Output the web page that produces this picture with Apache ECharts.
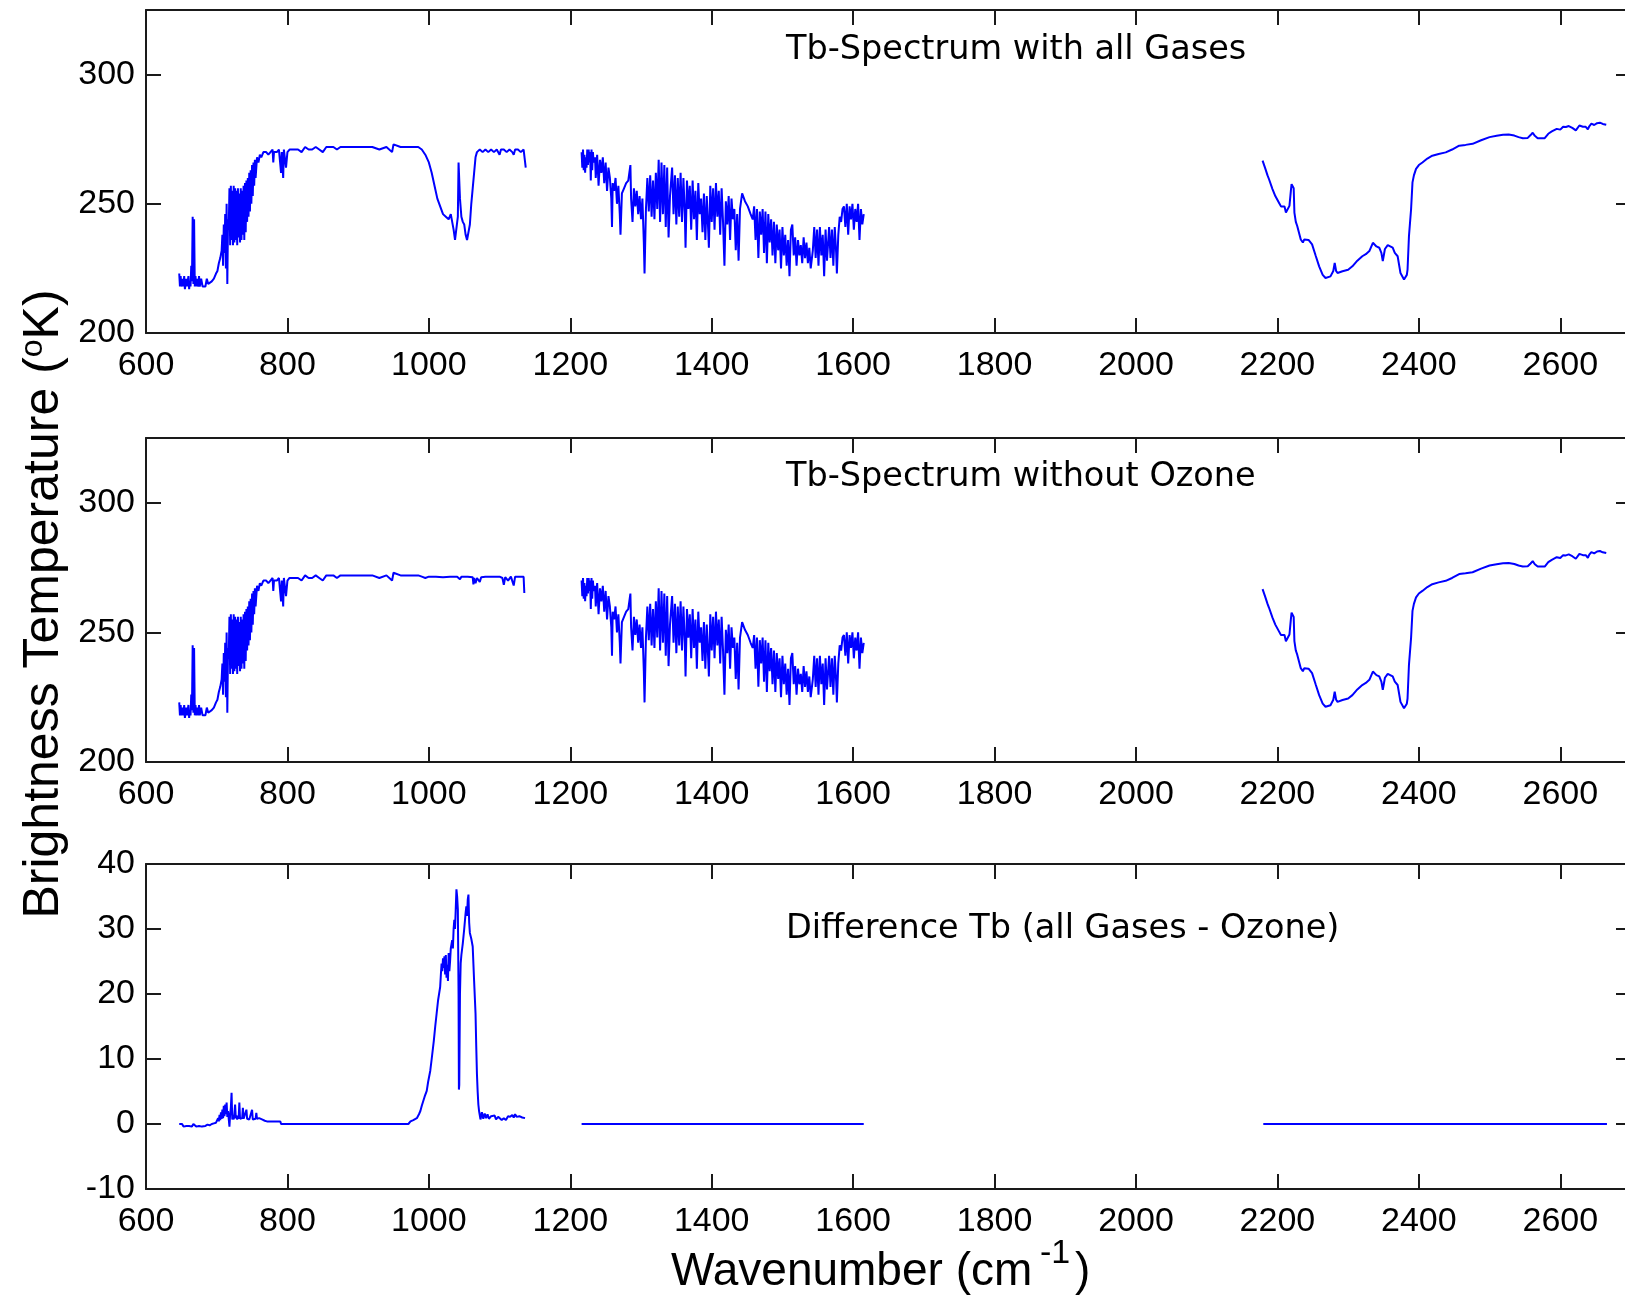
<!DOCTYPE html>
<html>
<head>
<meta charset="utf-8">
<title>Tb spectrum</title>
<script src="https://cdn.jsdelivr.net/npm/echarts@6.0.0/dist/echarts.min.js"></script>
<style>
html,body{margin:0;padding:0;background:#fff;}
#main{width:1625px;height:1306px;}
</style>
</head>
<body>
<div id="main"></div>
<script>
// [wavenumber cm-1, Tb K]
// 647-985 : identical in both spectra
var lwBand = [[647,223],[648,218],[649,222],[650,218],[652,221],[653,218],[654,222],[655,217],[657,221],[658,218],[660,222],[661,217],[662,220],[663,218],[664,226],[665,220],[666,245],[667,219],[668,244],[669,218],[670,222],[671,218],[672,221],[674,218],[675,222],[676,218],[678,221],[680,218],[682,218],[684,218],[686,221],[688,219],[690,219],[693,220],[696,221],[699,223],[701,224],[703,227],[705,229],[707,232],[708,238],[709,226],[710,242],[711,231],[712,246],[713,225],[714,250],[715,219],[716,244],[717,240],[718,256],[719,234],[720,257],[721,236],[722,255],[723,234],[724,257],[725,235],[726,256],[727,236],[728,255],[729,234],[730,256],[731,237],[732,254],[733,235],[734,256],[735,236],[736,255],[737,238],[738,257],[739,236],[740,258],[741,239],[742,259],[743,243],[744,260],[745,245],[746,262],[747,247],[748,263],[749,250],[750,265],[751,253],[752,266],[753,257],[754,267],[755,260],[757,268],[759,266],[761,269],[763,268],[766,270],[770,270],[773,269],[776,270],[779,271],[780,266],[781,270],[785,270],[788,271],[791,262],[792,270],[794,260],[795,271],[798,264],[800,270],[803,271],[810,271],[815,271],[820,270],[825,272],[830,271],[835,271],[840,272],[845,271],[850,270],[855,272],[860,272],[865,272],[870,271],[875,272],[880,272],[890,272],[900,272],[910,272],[920,272],[930,271],[940,272],[948,270],[950,273],[960,272],[970,272],[980,272],[985,272]];
// 990-1137 : ozone band
var o3BandAll = [[990,271],[995,269],[1000,266],[1004,262],[1008,257],[1012,252],[1016,249],[1020,246],[1024,245],[1028,244],[1031,246],[1033,243],[1035,240],[1037,236],[1039,236],[1041,245],[1042,266],[1043,266],[1044,252],[1046,245],[1048,243],[1050,242],[1052,238],[1054,236],[1056,236],[1058,242],[1060,250],[1062,256],[1064,262],[1066,268],[1068,270],[1072,271],[1076,270],[1080,271],[1084,270],[1088,271],[1092,270],[1096,271],[1100,269],[1102,271],[1106,271],[1110,270],[1114,271],[1118,270],[1120,269],[1122,271],[1126,271],[1130,270],[1134,271],[1136,271],[1137,264]];
var o3BandNoO3 = [[990,271.5],[995,271],[1000,271.5],[1010,271.5],[1020,271.3],[1030,271.5],[1040,271.5],[1044,270.5],[1046,271.5],[1055,271.5],[1062,271.3],[1063,268.5],[1064,271],[1066,269],[1068,271],[1072,269.5],[1074,271.3],[1080,271.5],[1090,271.5],[1100,271.5],[1104,271],[1106,268.4],[1108,271.3],[1112,270],[1116,271.5],[1120,268.1],[1122,271.5],[1128,271.5],[1134,271.5],[1135,265.2]];
// 1216-1615 : water vapour band
var h2oBand = [[1216,270],[1217,264],[1218,271],[1219,263],[1220,269],[1221,262],[1222,268],[1223,264],[1224,271],[1225,265],[1226,271],[1227,266],[1228,270],[1229,259],[1230,271],[1231,263],[1232,270],[1233,266],[1235,268],[1236,260],[1238,269],[1240,257],[1242,267],[1244,262],[1246,268],[1248,258],[1250,266],[1252,255],[1254,264],[1256,260],[1258,252],[1259,241],[1260,258],[1262,255],[1264,260],[1266,250],[1268,257],[1270,246],[1271,238],[1273,254],[1276,256],[1279,258],[1282,259],[1285,265],[1286,252],[1288,243],[1290,256],[1292,249],[1294,255],[1296,246],[1298,253],[1300,244],[1302,252],[1304,235],[1305,223],[1307,248],[1309,260],[1311,247],[1313,261],[1315,245],[1317,259],[1319,244],[1321,262],[1323,248],[1325,267],[1327,243],[1329,266],[1331,246],[1333,265],[1335,241],[1337,264],[1339,237],[1341,253],[1344,264],[1346,246],[1348,261],[1350,242],[1352,260],[1354,245],[1356,262],[1358,243],[1360,260],[1362,246],[1363,233],[1365,259],[1367,248],[1369,257],[1371,240],[1373,259],[1375,244],[1377,255],[1379,236],[1381,258],[1383,246],[1385,252],[1387,239],[1389,254],[1391,236],[1393,253],[1395,240],[1396,233],[1398,257],[1400,243],[1402,256],[1404,240],[1406,258],[1408,245],[1410,255],[1412,238],[1414,256],[1416,243],[1418,226],[1420,251],[1422,242],[1424,253],[1426,236],[1428,252],[1430,244],[1432,248],[1434,232],[1436,246],[1438,228],[1440,248],[1443,254],[1447,251],[1451,249],[1455,246],[1458,244],[1460,249],[1462,236],[1464,248],[1466,229],[1468,247],[1470,238],[1472,248],[1474,231],[1476,247],[1478,227],[1480,246],[1482,235],[1484,244],[1486,230],[1488,243],[1490,227],[1492,242],[1494,232],[1496,240],[1498,225],[1500,241],[1502,230],[1504,238],[1506,226],[1508,236],[1510,222],[1512,240],[1514,242],[1516,230],[1518,237],[1520,226],[1522,236],[1524,230],[1526,234],[1528,227],[1530,237],[1532,229],[1534,235],[1536,227],[1538,233],[1540,225],[1543,232],[1545,241],[1547,229],[1549,240],[1551,226],[1553,241],[1555,230],[1557,238],[1559,222],[1561,240],[1563,228],[1566,241],[1568,229],[1570,240],[1572,226],[1574,241],[1576,231],[1577,223],[1579,238],[1581,245],[1583,243],[1585,248],[1587,249],[1589,241],[1591,250],[1593,238],[1595,249],[1597,244],[1599,250],[1601,240],[1603,248],[1605,243],[1607,250],[1609,236],[1611,248],[1613,242],[1615,246]];
// 2179-2665 : CO2 / N2O band
var co2Band = [[2179,266.7],[2183,263.5],[2186,261],[2188,259.6],[2193,255.7],[2195,256],[2197,253],[2202,250.5],[2205,249],[2207,248.5],[2210,249],[2212,246.6],[2214,247],[2217,249.2],[2219,255],[2220,257.6],[2221,258.3],[2223,256],[2224,246.6],[2226,243],[2228,241.4],[2233,236.2],[2236,235],[2238,236.2],[2240,236.2],[2244,236],[2249,234.3],[2254,230],[2259,225.8],[2264,222.5],[2268,221.3],[2275,221.9],[2279,224],[2281,227.1],[2283,224],[2285,223.2],[2292,223.9],[2300,224.5],[2306,225.8],[2313,228],[2320,229.7],[2325,230.5],[2330,231.7],[2335,234.9],[2340,233.5],[2344,233],[2347,231],[2349,227.8],[2352,232.5],[2356,234],[2358,233.6],[2363,233],[2366,231],[2370,229.7],[2374,223.2],[2379,220.7],[2383,222.5],[2384,224.5],[2386,237.5],[2389,247.9],[2391,258.3],[2393,261],[2396,263.5],[2400,265],[2405,266],[2412,267.5],[2419,268.6],[2428,269.3],[2438,269.9],[2447,271],[2457,272.5],[2466,272.8],[2476,273.2],[2488,274.6],[2500,275.8],[2510,276.3],[2519,276.7],[2527,276.8],[2535,276.4],[2541,275.8],[2547,275.4],[2554,275.5],[2558,276.6],[2561,277.5],[2564,276.3],[2568,275.4],[2578,275.4],[2580,276],[2583,277.1],[2588,278],[2595,279],[2600,278.7],[2604,279.8],[2608,279.7],[2612,280.1],[2617,279.4],[2622,278.4],[2627,280.3],[2632,279.8],[2636,279.8],[2639,278.8],[2641,280],[2644,281],[2648,280.5],[2652,281.2],[2656,281.4],[2660,280.9],[2665,280.6]];
// difference all gases - no ozone
var diffLw = [[647,0],[649,-0.2],[651,0],[653,-0.4],[655,-0.1],[657,-0.3],[659,0],[661,-0.3],[663,-0.1],[665,-0.4],[667,0],[669,-0.2],[671,-0.4],[673,-0.1],[675,-0.3],[677,0],[679,-0.4],[681,-0.2],[684,-0.3],[687,-0.1],[690,-0.2],[693,0],[696,0.1],[699,0.2],[701,0.5],[702,0.9],[703,0.4],[704,1.4],[705,0.6],[706,1.8],[707,0.8],[708,2.2],[709,0.9],[710,2.8],[711,1.2],[712,3],[713,1.5],[714,3.3],[715,1.1],[716,2],[717,0.8],[718,-0.4],[719,1.5],[720,2.5],[721,4.8],[722,0.7],[723,1.2],[724,0.7],[725,1.6],[726,3],[727,0.9],[728,1.3],[729,0.7],[730,1.2],[731,0.8],[732,3.3],[733,0.8],[734,1.1],[735,0.8],[736,0.9],[737,2.5],[738,0.8],[739,0.9],[740,0.7],[742,2.2],[743,0.8],[744,0.9],[746,0.7],[748,0.8],[750,2.2],[751,0.7],[753,0.9],[755,0.8],[756,1.7],[757,0.8],[760,0.9],[762,0.7],[764,0.7],[766,0.5],[768,0.5],[771,0.4],[775,0.4],[780,0.4],[785,0.4],[790,0.4],[791,0],[800,0],[850,0],[900,0],[950,0],[971,0],[974,0.4],[978,0.6],[983,0.9],[986,1.5],[988,2],[990,2.8],[992,3.5],[994,4.2],[997,5.1],[999,6.5],[1002,8.2],[1004,10],[1007,12.8],[1009,15],[1011,17],[1013,19],[1016,21.1],[1017,23],[1018,24.7],[1019,23.5],[1020,25.5],[1021,24],[1022,25.8],[1023,23],[1024,26],[1025,22.5],[1026,24.5],[1027,22],[1028,26.3],[1029,23.5],[1030,25],[1031,27],[1033,28.3],[1034,27],[1035,30],[1036,31.4],[1037,30],[1038,33],[1039,36.1],[1040,35],[1041,33],[1042,20],[1042.5,5.3],[1043,6],[1044,20],[1045,24.7],[1046,26],[1048,27.8],[1050,30],[1052,32.5],[1053,33.5],[1054,32],[1055,34.5],[1056,35.3],[1057,31],[1058,29.4],[1060,28.5],[1062,27.3],[1064,22],[1066,17],[1067,12],[1068,7.7],[1069,5],[1070,3],[1071,2],[1073,0.7],[1075,1.8],[1077,0.8],[1079,1.6],[1081,0.9],[1083,1.5],[1085,0.8],[1088,1.2],[1090,0.9],[1093,1.3],[1095,0.7],[1098,1.1],[1100,0.8],[1103,0.6],[1106,0.9],[1109,0.6],[1112,1.2],[1115,1.1],[1118,1.4],[1120,1],[1122,1.5],[1124,1.1],[1126,1.4],[1128,1.2],[1130,1.3],[1132,1],[1134,1.1],[1136,0.9]];
var diffH2o = [[1216,0],[1615,0]];
var diffCo2 = [[2180,0],[2666,0]];

var titles = ['Tb-Spectrum with all Gases', 'Tb-Spectrum without Ozone', 'Difference Tb (all Gases - Ozone)'];

var myChart = echarts.init(document.getElementById('main'));

var axisCol = '#1a1a1a';
var tickFont = 'Liberation Sans';

// one grid per panel, pixel positions
// right edge falls just outside the page, as in the original
var grids = [
    {left: 146, top: 10, width: 1485, height: 323, outerBoundsMode: 'none', containLabel: false},
    {left: 146, top: 438, width: 1485, height: 324, outerBoundsMode: 'none', containLabel: false},
    {left: 146, top: 864, width: 1485, height: 325, outerBoundsMode: 'none', containLabel: false}
];
var yRanges = [
    {min: 200, max: 325, interval: 50},
    {min: 200, max: 325, interval: 50},
    {min: -10, max: 40, interval: 10}
];

function xAxisOf(g, pos) {
    return {
        type: 'value', gridIndex: g, position: pos,
        min: 600, max: 2700, interval: 200,
        axisLine: {show: true, onZero: false, lineStyle: {color: axisCol, width: 2}},
        axisTick: {show: true, inside: true, length: 15, lineStyle: {color: axisCol, width: 2}},
        axisLabel: {
            show: pos == 'bottom', margin: 16,
            fontFamily: tickFont, fontSize: 34, color: '#000',
            formatter: function (v) { return v % 200 == 0 ? String(v) : ''; }
        },
        splitLine: {show: false}
    };
}
function yAxisOf(g, pos) {
    var r = yRanges[g];
    return {
        type: 'value', gridIndex: g, position: pos,
        min: r.min, max: r.max, interval: r.interval,
        axisLine: {show: true, onZero: false, lineStyle: {color: axisCol, width: 2}},
        axisTick: {show: true, inside: true, length: 15, lineStyle: {color: axisCol, width: 2}},
        axisLabel: {
            show: pos == 'left', margin: 11,
            fontFamily: tickFont, fontSize: 34, color: '#000',
            formatter: function (v) { return v % r.interval == 0 ? String(v) : ''; }
        },
        splitLine: {show: false}
    };
}

var xAxes = [], yAxes = [];
for (var g = 0; g < 3; g++) {
    xAxes.push(xAxisOf(g, 'bottom'), xAxisOf(g, 'top'));
    yAxes.push(yAxisOf(g, 'left'), yAxisOf(g, 'right'));
}

function line(g, data) {
    return {
        type: 'line', xAxisIndex: g * 2, yAxisIndex: g * 2,
        data: data, showSymbol: false, symbol: 'none',
        lineStyle: {color: '#0000ff', width: 2},
        silent: true
    };
}

var series = [
    line(0, lwBand.concat(o3BandAll)), line(0, h2oBand), line(0, co2Band),
    line(1, lwBand.concat(o3BandNoO3)), line(1, h2oBand), line(1, co2Band),
    line(2, diffLw), line(2, diffH2o), line(2, diffCo2)
];

var titleY = [50, 477, 929];
var graphics = [];
for (var i = 0; i < 3; i++) {
    graphics.push({
        type: 'text', x: 786, y: titleY[i],
        style: {text: titles[i], fill: '#000', font: '33.5px "DejaVu Sans"', textAlign: 'left', textVerticalAlign: 'middle'}
    });
}
// y label, rotated
graphics.push({
    type: 'text', x: 44, y: 604, rotation: Math.PI / 2,
    style: {
        text: 'Brightness Temperature ({s|o}K)',
        fill: '#000', font: '50px "Liberation Sans"', textAlign: 'center', textVerticalAlign: 'middle',
        rich: {s: {fontSize: 32, fontFamily: 'Liberation Sans', padding: [0, 0, 22, 0]}}
    }
});
// x label with superscript
graphics.push({
    type: 'text', x: 671, y: 1272,
    style: {text: 'Wavenumber (cm', fill: '#000', font: '46px "Liberation Sans"', textAlign: 'left', textVerticalAlign: 'middle'}
});
graphics.push({
    type: 'text', x: 1040, y: 1254,
    style: {text: '-1', fill: '#000', font: '34px "Liberation Sans"', textAlign: 'left', textVerticalAlign: 'middle'}
});
graphics.push({
    type: 'text', x: 1075, y: 1272,
    style: {text: ')', fill: '#000', font: '46px "Liberation Sans"', textAlign: 'left', textVerticalAlign: 'middle'}
});

var option = {
    animation: false,
    backgroundColor: '#fff',
    grid: grids,
    xAxis: xAxes,
    yAxis: yAxes,
    series: series,
    graphic: graphics
};
myChart.setOption(option);
</script>
</body>
</html>
